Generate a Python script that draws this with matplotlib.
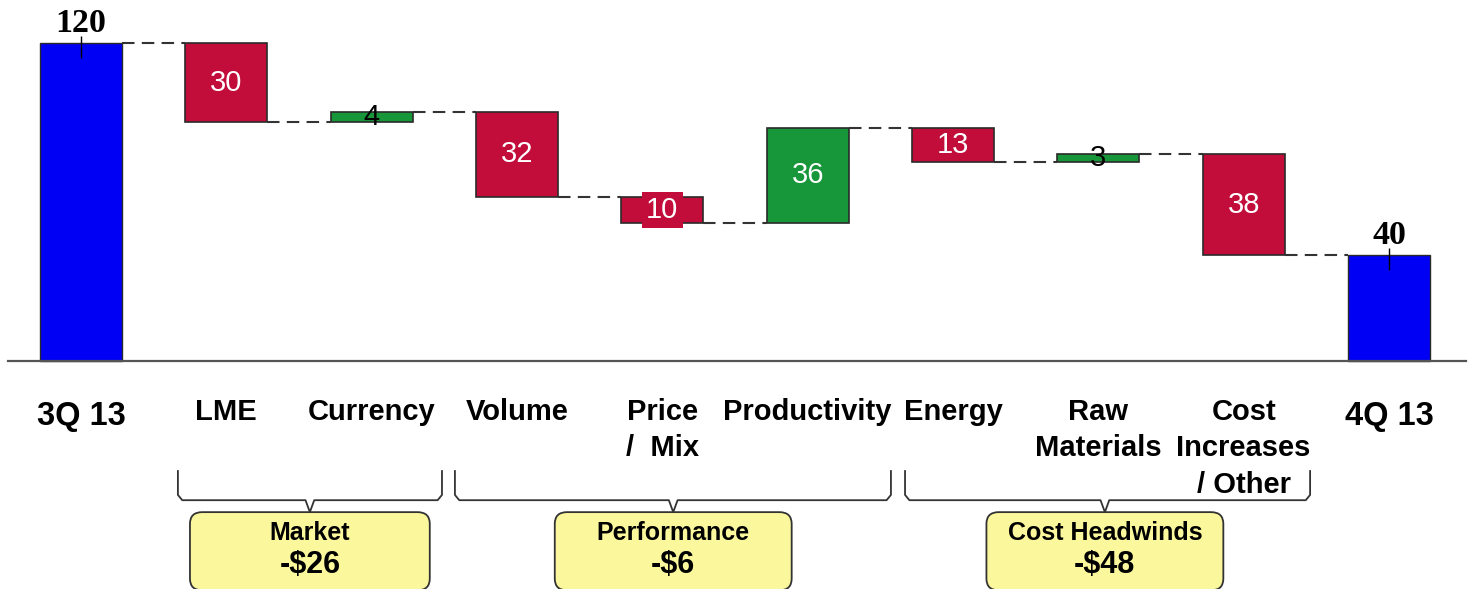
import numpy as np
import matplotlib.pyplot as plt
from matplotlib.patches import FancyBboxPatch

# quarter-over-quarter bridge
labels = ['3Q 13', 'LME', 'Currency', 'Volume', 'Price\n/  Mix', 'Productivity',
          'Energy', 'Raw\nMaterials', 'Cost\nIncreases\n/ Other', '4Q 13']
start_total = 120
changes = [-30, 4, -32, -10, 36, -13, 3, -38]

groups = ['Market', 'Performance', 'Cost Headwinds']
group_totals = ['-$26', '-$6', '-$48']
group_span = [(0.667, 2.484), (2.573, 5.573), (5.67, 8.457)]
group_box = [(0.75, 2.40), (3.26, 4.89), (6.23, 7.86)]

RED = '#C20D3B'
GREEN = '#17963A'
BLUE = '#0000F5'
EDGE = '#2a2a2a'

levels = start_total + np.cumsum([0] + changes)
end_total = levels[-1]

fig = plt.figure(figsize=(14.71, 5.89), dpi=100)
ax = fig.add_axes([0, 0, 1, 1])
ax.set_xlim(-0.557, 9.564)
ax.set_ylim(-86.0, 136.2)
ax.axis('off')

w = 0.564
n = len(labels)

# totals
for i, v in [(0, start_total), (n - 1, end_total)]:
    ax.bar(i, v, width=w, color=BLUE, edgecolor=EDGE, linewidth=1.0)
    ax.vlines(i, v - 5.5, v + 2.5, color='black', linewidth=1.0)
    ax.text(i, v + 1.6, str(v), ha='center', va='bottom', fontsize=24.5,
            fontweight='bold', family='Liberation Serif')

# step bars
for k, d in enumerate(changes):
    i = k + 1
    lo = min(levels[k], levels[k + 1])
    col = GREEN if d > 0 else RED
    ax.bar(i, abs(d), bottom=lo, width=w, color=col, edgecolor=EDGE, linewidth=1.2)
    small = abs(d) < 8
    tc = 'black' if small else 'white'
    kw = {}
    if abs(d) == 10:
        kw['bbox'] = dict(boxstyle='square,pad=0.15', facecolor=RED, edgecolor='none')
    ax.text(i, lo + abs(d) / 2, str(abs(d)), ha='center', va='center',
            fontsize=21, color=tc, family='Liberation Sans', **kw)

# dashed connectors
for i in range(n - 1):
    ax.plot([i + w / 2, i + 1 - w / 2], [levels[min(i, len(levels) - 1)]] * 2,
            color='#333333', linestyle=(0, (6, 3.5)), linewidth=1.5)

# baseline
ax.plot([-0.50, 9.53], [0, 0], color='#555555', linewidth=1.6)

# category labels
for i, lab in enumerate(labels):
    big = i in (0, n - 1)
    ax.text(i, -15.0 if big else -13.8, lab, ha='center', va='top',
            fontsize=23.5 if big else 21, fontweight='bold',
            family='Liberation Sans', linespacing=1.4)

# group braces and summary boxes
for (x0, x1), (b0, b1), g, t in zip(group_span, group_box, groups, group_totals):
    xm = (b0 + b1) / 2
    bx = [x0, x0, x0 + 0.03, xm - 0.03, xm, xm + 0.03, x1 - 0.03, x1, x1]
    by = [-41.5, -50.5, -52.5, -52.5, -57.0, -52.5, -52.5, -50.5, -41.5]
    ax.plot(bx, by, color='#333333', linewidth=1.3)
    box = FancyBboxPatch((b0, -86.5), b1 - b0, 29.5,
                         boxstyle='round,pad=0,rounding_size=0.085',
                         mutation_aspect=52, facecolor='#FBF79C',
                         edgecolor='#333333', linewidth=1.3)
    ax.add_patch(box)
    ax.text(xm, -64.8, g, ha='center', va='center', fontsize=18,
            fontweight='bold', family='Liberation Sans')
    ax.text(xm, -76.8, t, ha='center', va='center', fontsize=22,
            fontweight='bold', family='Liberation Sans')

fig.savefig('out.png', dpi=100)
